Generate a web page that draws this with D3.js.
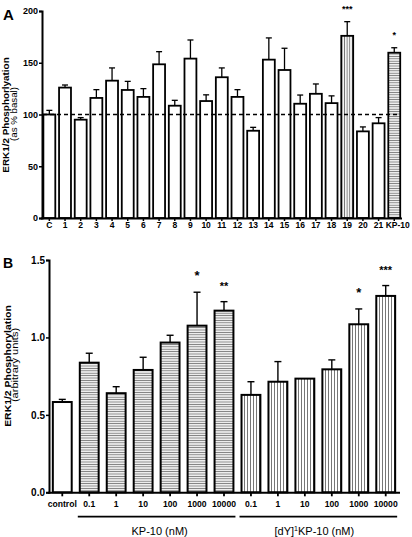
<!DOCTYPE html>
<html><head><meta charset="utf-8">
<script src="https://cdn.jsdelivr.net/npm/d3@7/dist/d3.min.js"></script>
<style>body{margin:0;background:#fff;} svg{display:block;}</style>
</head><body><svg id="c" width="412" height="537"></svg>
<script>
// Panel A data
const catsA = ["C","1","2","3","4","5","6","7","8","9","10","11","12","13","14","15","16","17","18","19","20","21","KP-10"];
const valsA = [100,126,95,116,132.7,123.7,117,148.5,108.5,154,113,136,117,84.3,153,143,110.4,120,111,176,83.7,91.5,159.7];
const errA  = [4,2.5,2,8,12.3,8.3,8,12.2,5.2,18,6,9,7,3.3,21,21,8.4,9.5,7,13.7,4.3,5.5,4.8];
const fillA = ["o","o","o","o","o","o","o","o","o","o","o","o","o","o","o","o","o","o","o","v","o","o","h"];
const starsA = ["","","","","","","","","","","","","","","","","","","","***","","","*"];
const ticksA = [0,50,100,150,200];

// Panel B data
const catsB = ["control","0.1","1","10","100","1000","10000","0.1 ","1 ","10 ","100 ","1000 ","10000 "];
const labelsB = ["control","0.1","1","10","100","1000","10000","0.1","1","10","100","1000","10000"];
const valsB = [0.583,0.837,0.64,0.79,0.967,1.076,1.173,0.629,0.714,0.734,0.794,1.085,1.268];
const errB  = [0.017,0.061,0.042,0.082,0.047,0.216,0.058,0.085,0.13,0,0.061,0.099,0.067];
const fillB = ["o","h","h","h","h","h","h","v","v","v","v","v","v"];
const starsB = ["","","","","","*","**","","","","","*","***"];
const ticksB = [0,0.5,1.0,1.5];
const groupsB = [{label:"KP-10 (nM)", from:"0.1", to:"10000"},{label:"[dY]", sup:"1", rest:"KP-10 (nM)", from:"0.1 ", to:"10000 "}];

const FONT = "Liberation Sans, Arial, sans-serif";
const svg = d3.select("#c").attr("font-family", FONT);
const defs = svg.append("defs");
function pat(id, horiz, step){
  const p = defs.append("pattern").attr("id",id).attr("patternUnits","userSpaceOnUse")
    .attr("width", horiz?8:step).attr("height", horiz?step:8);
  p.append("rect").attr("width",horiz?8:step).attr("height",horiz?step:8).attr("fill","#fff");
  if(horiz) p.append("line").attr("x1",0).attr("x2",8).attr("y1",step/2).attr("y2",step/2).attr("stroke","#777").attr("stroke-width",1);
  else p.append("line").attr("y1",0).attr("y2",8).attr("x1",step/2).attr("x2",step/2).attr("stroke","#777").attr("stroke-width",1);
}
pat("hA",true,2.4); pat("vA",false,2.6); pat("hB",true,2.4); pat("vB",false,3);
const fillOf = (f,p)=> f==="o" ? "#fff" : (f==="h" ? `url(#h${p})` : `url(#v${p})`);

// ---------- Panel A ----------
const yA = d3.scaleLinear().domain([0,200]).range([218,11]);
const xA = d3.scaleBand().domain(catsA).range([41.5,402.1]).paddingInner(0.24).paddingOuter(0.12);
const gA = svg.append("g");
gA.selectAll("rect.bar").data(catsA).join("rect")
  .attr("x",d=>xA(d)).attr("width",xA.bandwidth())
  .attr("y",(d,i)=>yA(valsA[i])).attr("height",(d,i)=>yA(0)-yA(valsA[i]))
  .attr("fill",(d,i)=>fillOf(fillA[i],"A")).attr("stroke","#000").attr("stroke-width",1.8);
catsA.forEach((c,i)=>{
  if(!errA[i]) return;
  const cx = xA(c)+xA.bandwidth()/2;
  gA.append("line").attr("x1",cx).attr("x2",cx).attr("y1",yA(valsA[i])).attr("y2",yA(valsA[i]+errA[i])).attr("stroke","#000").attr("stroke-width",1.3);
  gA.append("line").attr("x1",cx-3).attr("x2",cx+3).attr("y1",yA(valsA[i]+errA[i])).attr("y2",yA(valsA[i]+errA[i])).attr("stroke","#000").attr("stroke-width",1.3);
  if(starsA[i]) gA.append("text").attr("x",cx).attr("y",yA(valsA[i]+errA[i])-10).attr("text-anchor","middle")
     .attr("font-size",9).attr("font-weight","bold").text(starsA[i]);
});
gA.append("line").attr("x1",43).attr("x2",399).attr("y1",yA(100)).attr("y2",yA(100))
  .attr("stroke","#000").attr("stroke-width",1.6).attr("stroke-dasharray","4,3");
const axA = gA.append("g").attr("transform","translate(42,0)")
  .call(d3.axisLeft(yA).tickValues(ticksA).tickSize(3).tickPadding(1).tickFormat(d3.format("d")))
  .attr("font-family",FONT).attr("font-size",9).attr("font-weight","bold");
axA.select(".domain").attr("stroke-width",2);
axA.selectAll(".tick line").attr("stroke-width",1.5);
const bxA = gA.append("g").attr("transform","translate(0,218)")
  .call(d3.axisBottom(xA).tickSize(3).tickPadding(1).tickSizeOuter(0))
  .attr("font-family",FONT).attr("font-size",8.5).attr("font-weight","bold");
bxA.select(".domain").attr("d","M41,0.5H402").attr("stroke-width",2);
bxA.selectAll(".tick line").attr("stroke-width",1.5);
bxA.selectAll(".tick text").filter(d=>d==="KP-10").attr("dx",3.5);
gA.append("text").attr("x",3).attr("y",20).attr("font-size",15).attr("font-weight","bold").text("A");
gA.append("text").attr("transform","translate(8.5,115) rotate(-90) scale(1.1,1)").attr("text-anchor","middle")
  .attr("font-size",9).attr("font-weight","bold").text("ERK1/2 Phosphorlyation");
gA.append("text").attr("transform","translate(16.5,114) rotate(-90) scale(1.14,1)").attr("text-anchor","middle")
  .attr("font-size",8.5).text("(as % basal)");

// ---------- Panel B ----------
const yB = d3.scaleLinear().domain([0,1.5]).range([492.3,260]);
const xB = d3.scaleBand().domain(catsB).range([48.8,399.2]).paddingInner(0.3).paddingOuter(0.15);
const gB = svg.append("g");
gB.selectAll("rect.bar").data(catsB).join("rect")
  .attr("x",d=>xB(d)).attr("width",xB.bandwidth())
  .attr("y",(d,i)=>yB(valsB[i])).attr("height",(d,i)=>yB(0)-yB(valsB[i]))
  .attr("fill",(d,i)=>fillOf(fillB[i],"B")).attr("stroke","#000").attr("stroke-width",2);
catsB.forEach((c,i)=>{
  const cx = xB(c)+xB.bandwidth()/2;
  if(errB[i]){
    gB.append("line").attr("x1",cx).attr("x2",cx).attr("y1",yB(valsB[i])).attr("y2",yB(valsB[i]+errB[i])).attr("stroke","#000").attr("stroke-width",1.4);
    gB.append("line").attr("x1",cx-3.5).attr("x2",cx+3.5).attr("y1",yB(valsB[i]+errB[i])).attr("y2",yB(valsB[i]+errB[i])).attr("stroke","#000").attr("stroke-width",1.4);
  }
  if(starsB[i]) gB.append("text").attr("x",cx).attr("y",yB(valsB[i]+errB[i])-12).attr("text-anchor","middle")
     .attr("font-size",starsB[i].length>1?11:13).attr("font-weight","bold").text(starsB[i]);
});
const axB = gB.append("g").attr("transform","translate(49,0)")
  .call(d3.axisLeft(yB).tickValues(ticksB).tickSize(3).tickPadding(1).tickFormat(d3.format(".1f")))
  .attr("font-family",FONT).attr("font-size",10).attr("font-weight","bold");
axB.select(".domain").attr("stroke-width",2);
axB.selectAll(".tick line").attr("stroke-width",1.5);
const bxB = gB.append("g").attr("transform","translate(0,492.3)")
  .call(d3.axisBottom(xB).tickSize(4).tickPadding(5).tickSizeOuter(0).tickFormat((d,i)=>labelsB[i]))
  .attr("font-family",FONT).attr("font-size",8.6).attr("font-weight","bold");
bxB.select(".domain").attr("d","M48,0.5H400").attr("stroke-width",2);
bxB.selectAll(".tick line").attr("stroke-width",1.8);
groupsB.forEach((g,k)=>{
  const x1 = xB(g.from)-2, x2 = xB(g.to)+xB.bandwidth()+2;
  gB.append("line").attr("x1",x1).attr("x2",x2).attr("y1",516.7).attr("y2",516.7).attr("stroke","#000").attr("stroke-width",1.8);
  const t = gB.append("text").attr("x",(x1+x2)/2 + (k===0?3:-4)).attr("y",535).attr("text-anchor","middle").attr("font-size",11);
  if(g.sup){
    t.append("tspan").text(g.label);
    t.append("tspan").attr("font-size",7).attr("dy",-4.5).text(g.sup);
    t.append("tspan").attr("dy",4.5).text(g.rest);
  } else t.text(g.label);
});
gB.append("text").attr("x",3).attr("y",268).attr("font-size",14).attr("font-weight","bold").text("B");
gB.append("text").attr("transform","translate(11,366) rotate(-90) scale(1.1,1)").attr("text-anchor","middle")
  .attr("font-size",9.5).attr("font-weight","bold").text("ERK1/2 Phosphorylation");
gB.append("text").attr("transform","translate(17.5,365) rotate(-90) scale(1.3,1)").attr("text-anchor","middle")
  .attr("font-size",8.5).text("(arbitrary units)");
</script></body></html>
